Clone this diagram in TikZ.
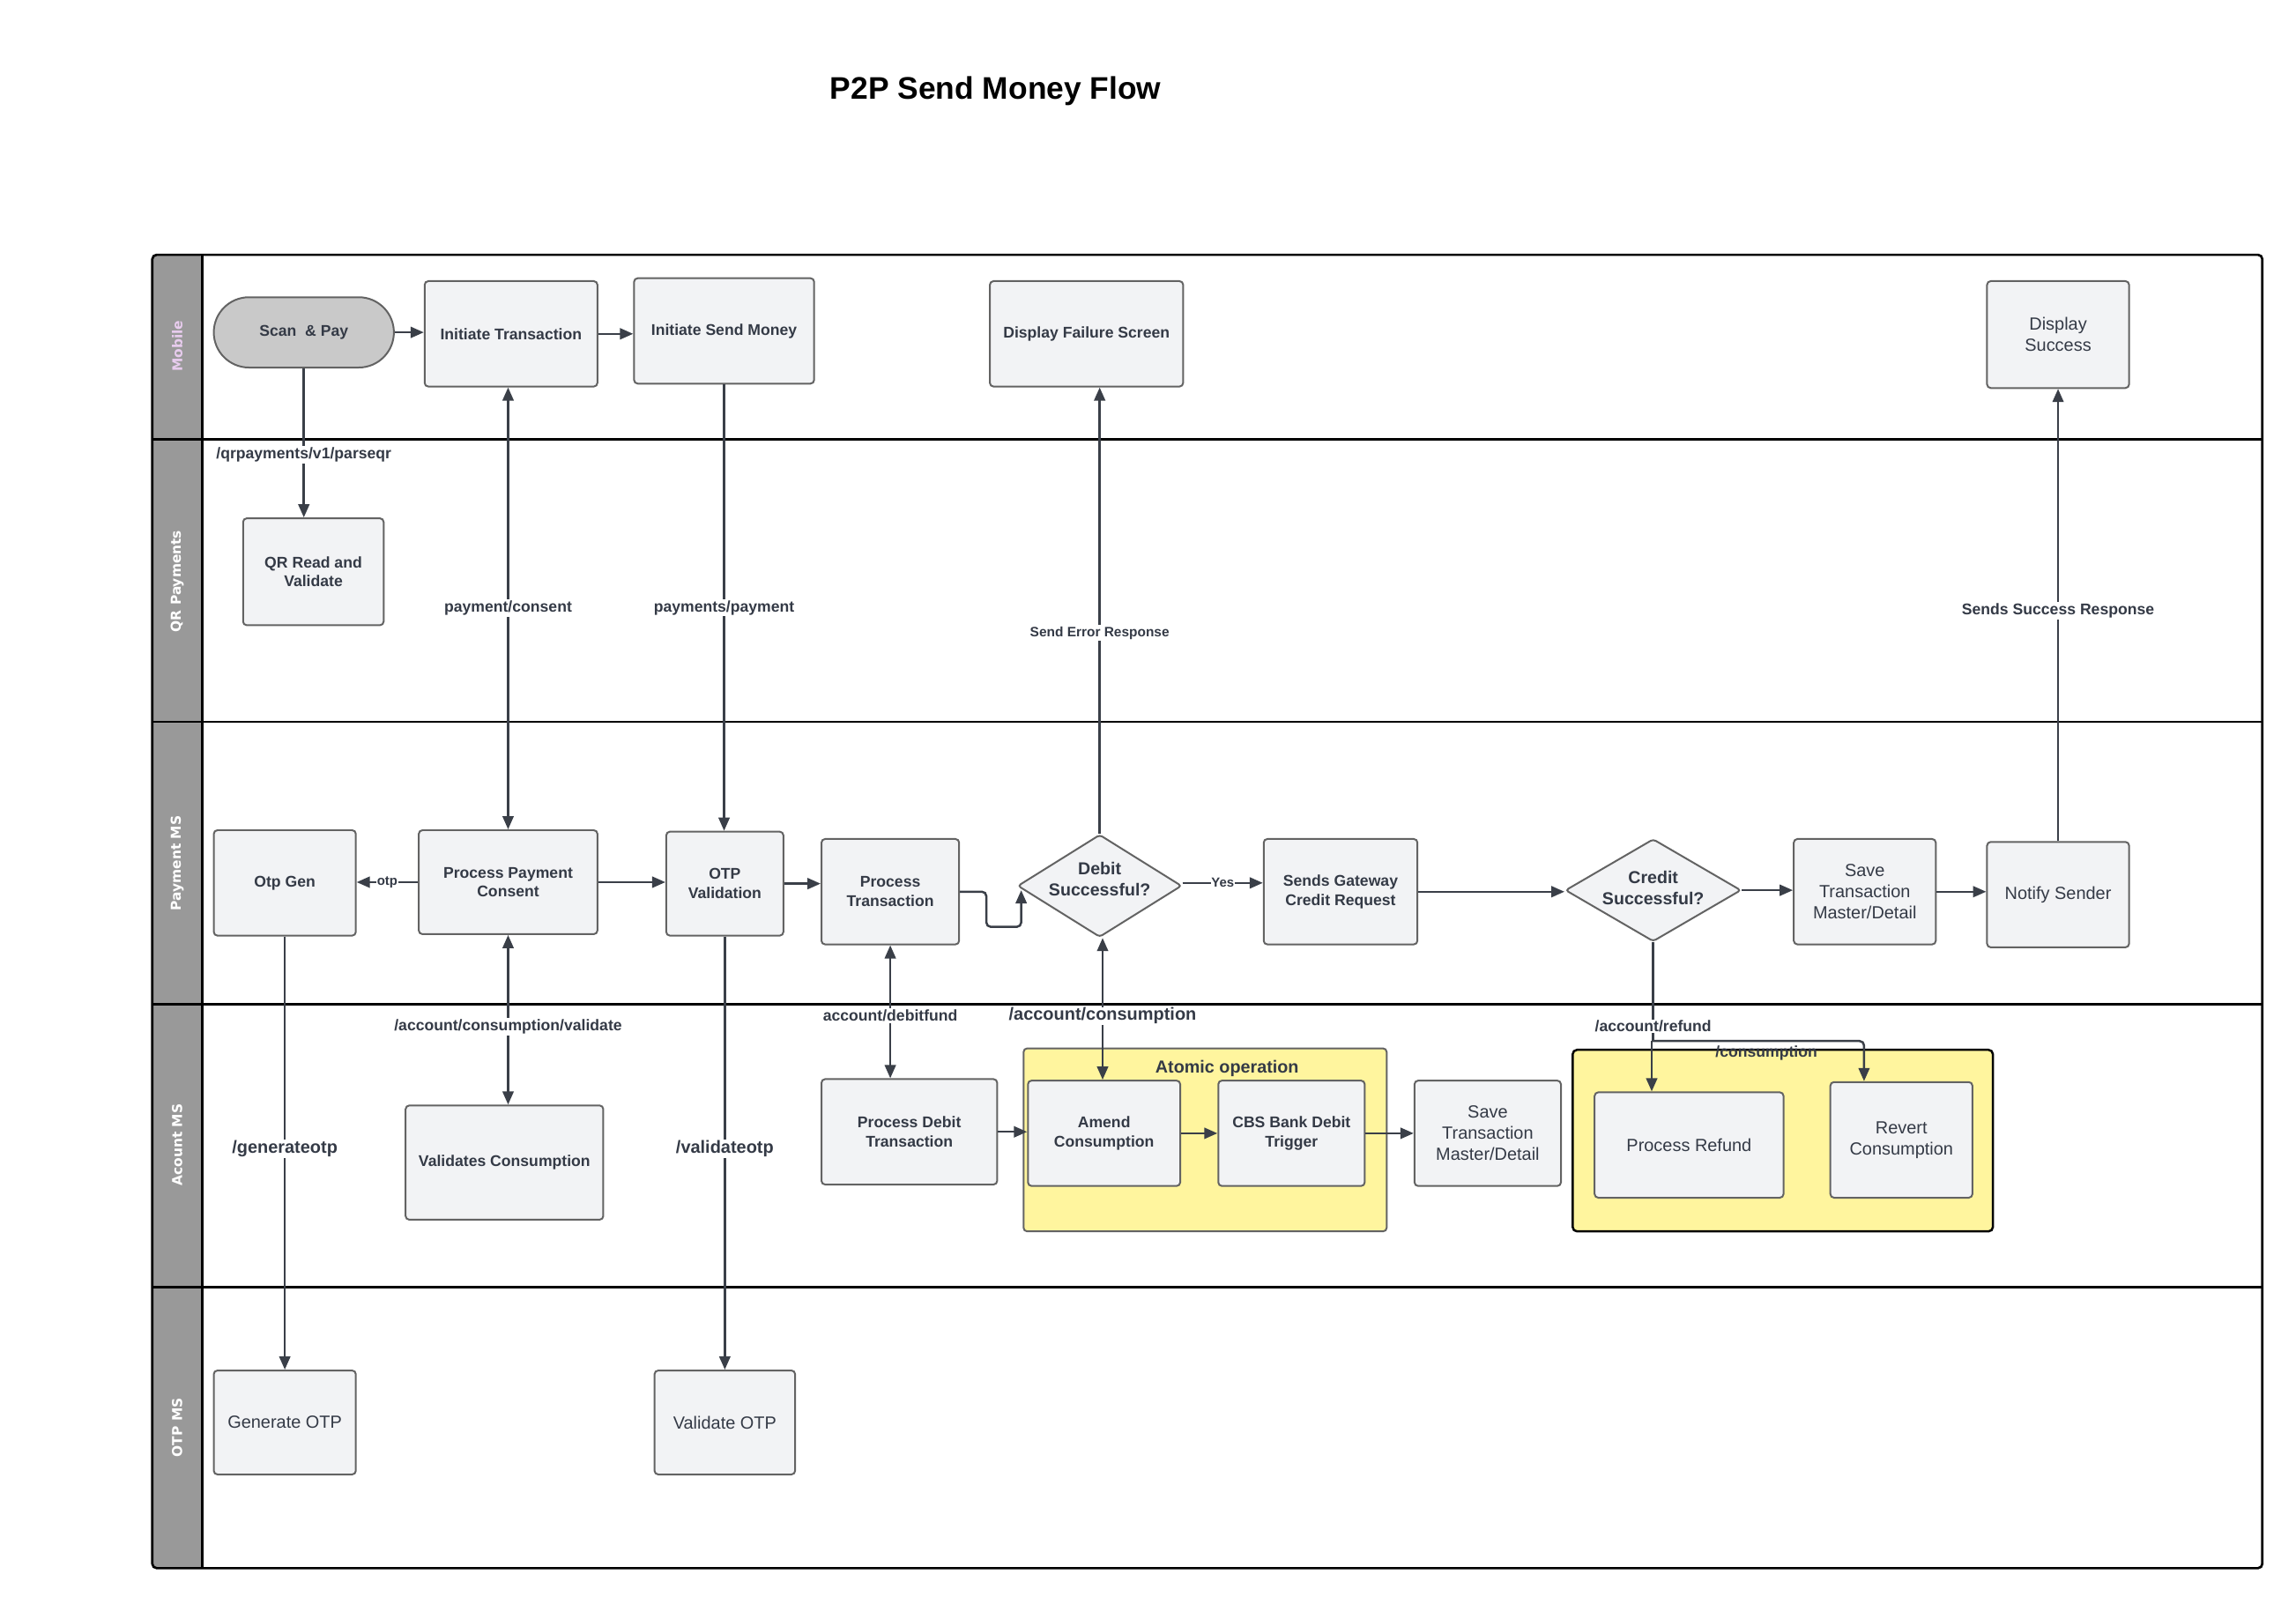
\documentclass[tikz,border=0pt]{standalone}
\usepackage{fontspec}
\setmainfont{Liberation Sans}
\newfontfamily\lanefont{DejaVu Sans}
\usetikzlibrary{shapes.geometric,arrows.meta}
\definecolor{boxfill}{HTML}{F2F3F5}
\definecolor{boxdraw}{HTML}{636363}
\definecolor{txt}{HTML}{343A46}
\definecolor{edge}{HTML}{3A3F48}
\definecolor{lanegray}{HTML}{999999}
\definecolor{pill}{HTML}{C9C9C9}
\definecolor{yel}{HTML}{FFF59E}
\definecolor{lav}{HTML}{E8CCEE}
\tikzset{
  proc/.style={rectangle, draw=boxdraw, line width=1.2pt, fill=boxfill, rounded corners=2.5pt,
    align=center, text=txt, inner sep=2pt, font=\bfseries\fontsize{10.6}{13}\selectfont},
  procn/.style={proc, font=\fontsize{12}{14.5}\selectfont},
  dec/.style={diamond, draw=boxdraw, line width=1.2pt, fill=boxfill, rounded corners=2pt,
    inner sep=0pt, shape aspect=1.6},
  dectxt/.style={align=center, text=txt, inner sep=0pt, font=\bfseries\fontsize{11.8}{14.5}\selectfont},
  ln/.style={draw=edge, line width=1.5pt},
  arr/.style={ln, -{Triangle[length=9pt,width=7.5pt]}},
  arrtwo/.style={ln, {Triangle[length=9pt,width=7.5pt]}-{Triangle[length=9pt,width=7.5pt]}},
  lbl/.style={fill=white, inner sep=1pt, text=txt, font=\bfseries\fontsize{10.6}{12}\selectfont},
  lblbig/.style={lbl, inner sep=0.5pt, font=\bfseries\fontsize{12}{14}\selectfont},
  lblsmall/.style={lbl, inner sep=0.5pt, font=\bfseries\fontsize{9}{10}\selectfont},
  lanelbl/.style={rotate=90, text=white, font=\lanefont\bfseries\fontsize{9.3}{11}\selectfont},
  lane/.style={draw=black, line width=1.5pt},
}
\begin{document}
\begin{tikzpicture}[x=1pt,y=1pt]
\useasboundingbox (0,0) rectangle (1568,-1095);
\fill[white] (0,0) rectangle (1568,-1095);

% title
\node[font=\bfseries\fontsize{21.3}{25}\selectfont, text=black] (title) at (680,-62) {P2P Send Money Flow};

% pool and lanes
\fill[lanegray, rounded corners=3pt] (104,-174) rectangle (138,-1071);
\draw[lane] (138,-174) -- (138,-1071);
\draw[lane] (104,-300) -- (1545,-300);
\draw[lane] (104,-493) -- (1545,-493);
\draw[lane] (104,-686) -- (1545,-686);
\draw[lane] (104,-879) -- (1545,-879);
\draw[line width=1.6pt, rounded corners=3pt] (104,-174) rectangle (1545,-1071);

\node[lanelbl, text=lav] (lmobile) at (121,-236.5) {Mobile};
\node[lanelbl] (lqr) at (121,-397) {QR Payments};
\node[lanelbl] (lpay) at (121,-589.5) {Payment MS};
\node[lanelbl] (lacc) at (121,-782) {Acount MS};
\node[lanelbl] (lotp) at (121,-975) {OTP MS};

% groups
\draw[draw=boxdraw, line width=1.2pt, fill=yel, rounded corners=2.5pt] (699,-716) rectangle (947,-841);
\node[text=txt, font=\bfseries\fontsize{11.9}{14}\selectfont] (atomiclbl) at (838,-730) {Atomic operation};
\draw[draw=black, line width=1.5pt, fill=yel, rounded corners=3pt] (1074,-717) rectangle (1361,-841);

% Mobile lane
\node[proc, fill=pill, draw=boxdraw, rounded corners=24pt, minimum width=123pt, minimum height=48pt] (scan) at (207.5,-227) {Scan~ \& Pay};
\node[proc, minimum width=118pt, minimum height=72pt] (init) at (349,-228) {Initiate Transaction};
\node[proc, minimum width=123pt, minimum height=72pt] (isend) at (494.5,-226) {Initiate Send Money};
\node[proc, minimum width=132pt, minimum height=72pt] (fail) at (742,-228) {Display Failure Screen};
\node[procn, minimum width=97pt, minimum height=73pt] (dsucc) at (1405.5,-228.5) {Display\\Success};

% QR lane
\node[proc, minimum width=96pt, minimum height=73pt] (qr) at (214,-390.5) {QR Read and\\Validate};

% Payment MS lane
\node[proc, minimum width=97pt, minimum height=72pt] (otpgen) at (194.5,-603) {Otp Gen};
\node[proc, minimum width=122pt, minimum height=71pt] (ppc) at (347,-602.5) {Process Payment\\Consent};
\node[proc, minimum width=80pt, minimum height=71pt] (otpv) at (495,-603.5) {OTP\\Validation};
\node[proc, minimum width=94pt, minimum height=72pt] (ptx) at (608,-609) {Process\\Transaction};
\node[dec, minimum width=112pt, minimum height=70pt] (debit) at (751,-605) {};
\node[dectxt] (debittxt) at (751,-600.5) {Debit\\Successful?};
\node[proc, minimum width=105pt, minimum height=72pt] (sgw) at (915.5,-609) {Sends Gateway\\Credit Request};
\node[dec, minimum width=120pt, minimum height=70pt] (credit) at (1129,-608) {};
\node[dectxt] (credittxt) at (1129,-606.5) {Credit\\Successful?};
\node[procn, minimum width=97pt, minimum height=72pt] (save1) at (1273.5,-609) {Save\\Transaction\\Master/Detail};
\node[procn, minimum width=97pt, minimum height=72pt] (notify) at (1405.5,-611) {Notify Sender};

% Account MS lane
\node[proc, minimum width=135pt, minimum height=78pt] (valc) at (344.5,-794) {Validates Consumption};
\node[proc, minimum width=120pt, minimum height=72pt] (pdt) at (621,-773) {Process Debit\\Transaction};
\node[proc, minimum width=104pt, minimum height=72pt] (amend) at (754,-774) {Amend\\Consumption};
\node[proc, minimum width=100pt, minimum height=72pt] (cbs) at (882,-774) {CBS Bank Debit\\Trigger};
\node[procn, minimum width=100pt, minimum height=72pt] (save2) at (1016,-774) {Save\\Transaction\\Master/Detail};
\node[procn, minimum width=129pt, minimum height=72pt] (prefund) at (1153.5,-782) {Process Refund};
\node[procn, minimum width=97pt, minimum height=79pt] (revert) at (1298.5,-778.5) {Revert\\Consumption};

% OTP MS lane
\node[procn, minimum width=97pt, minimum height=71pt] (genotp) at (194.5,-971.5) {Generate OTP};
\node[procn, minimum width=96pt, minimum height=71pt] (valotp) at (495,-971.5) {Validate OTP};

% connectors
\draw[arr] (scan.east) -- (scan.east -| init.west);
\draw[arr] (init.east) -- (isend.west |- init.east);
\draw[arr] (scan.south) -- node[lbl, pos=0.58] {/qrpayments/v1/parseqr} (scan.south |- qr.north);
\draw[arrtwo] (init.south -| ppc.north) -- node[lbl, pos=0.5] {payment/consent} (ppc.north);
\draw[arr] (isend.south) -- node[lbl, pos=0.5] {payments/payment} (isend.south |- otpv.north);
\draw[arr] (debit.north) -- node[lbl, pos=0.45, font=\bfseries\fontsize{9.3}{11}\selectfont] {Send Error Response} (debit.north |- fail.south);
\draw[arr] (notify.north) -- node[lbl, pos=0.51] {Sends Success Response} (notify.north |- dsucc.south);
\draw[arr] (ppc.west) -- node[lblsmall, pos=0.5] {otp} (ppc.west -| otpgen.east);
\draw[arr] (ppc.east) -- (ppc.east -| otpv.west);
\draw[arr] (otpv.east) -- (otpv.east -| ptx.west);
\draw[arr, rounded corners=3pt] (ptx.east) -- ++(18,0) |- ([xshift=3pt,yshift=-28pt]debit.west) -- ([xshift=3pt,yshift=-3pt]debit.west);
\draw[arr] ([yshift=2pt]debit.east) -- node[lblsmall, pos=0.5] {Yes} ([yshift=2pt]debit.east -| sgw.west);
\draw[arr] (sgw.east) -- (sgw.east -| credit.west);
\draw[arr] (credit.east) -- (credit.east -| save1.west);
\draw[arr] (save1.east) -- (save1.east -| notify.west);
\draw[arr] (otpgen.south) -- node[lblbig, pos=0.49] {/generateotp} (genotp.north);
\draw[arr] (otpv.south) -- node[lblbig, pos=0.49] {/validateotp} (valotp.north);
\draw[arrtwo] (ppc.south) -- node[lbl, pos=0.54] {/account/consumption/validate} (ppc.south |- valc.north);
\draw[arrtwo] (ptx.south) -- node[lbl, pos=0.53] {account/debitfund} (ptx.south |- pdt.north);
\draw[arr] (pdt.east) -- (pdt.east -| amend.west);
\draw[arrtwo] ([xshift=2pt]debit.south) -- node[lblbig, pos=0.55] {/account/consumption} ([xshift=2pt]debit.south |- amend.north);
\draw[arr] (amend.east) -- (amend.east -| cbs.west);
\draw[arr] (cbs.east) -- (cbs.east -| save2.west);

\coordinate (split) at (1128,-711);
\draw[ln] (credit.south) -- node[lbl, pos=0.85, inner sep=0.5pt] {/account/refund} (credit.south |- split);
\draw[arr] (split) -- (split |- prefund.north);
\draw[arr, rounded corners=3pt] (split) -| node[pos=0.27, yshift=-8.5pt, text=txt, font=\bfseries\fontsize{10.6}{12}\selectfont] {/consumption} ([xshift=-25.5pt]revert.north);
\end{tikzpicture}
\end{document}
